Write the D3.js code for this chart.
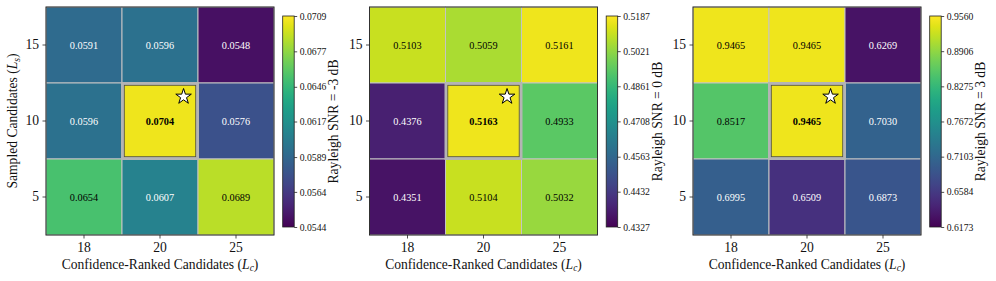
<!DOCTYPE html>
<html>
<head>
<meta charset="utf-8">
<script src="https://cdn.jsdelivr.net/npm/d3@7"></script>
<style>
  body { margin: 0; background: #fff; }
  svg { display: block; font-family: "Liberation Serif", "DejaVu Serif", serif; }
</style>
</head>
<body>
<svg id="chart" width="996" height="281"></svg>
<script>
// categories
const xCats = ["18", "20", "25"];          // confidence-ranked candidates L_c
const yCats = ["15", "10", "5"];           // sampled candidates L_s (top to bottom)
const snrLabels = ["Rayleigh SNR = -3 dB", "Rayleigh SNR = 0 dB", "Rayleigh SNR = 3 dB"];

// cell values, rows top to bottom
const valuesM3 = [[0.0591, 0.0596, 0.0548], [0.0596, 0.0704, 0.0576], [0.0654, 0.0607, 0.0689]];
const values0 = [[0.5103, 0.5059, 0.5161], [0.4376, 0.5163, 0.4933], [0.4351, 0.5104, 0.5032]];
const values3 = [[0.9465, 0.9465, 0.6269], [0.8517, 0.9465, 0.7030], [0.6995, 0.6509, 0.6873]];

// colorbar tick labels
const cbarTicksM3 = [0.0544, 0.0564, 0.0589, 0.0617, 0.0646, 0.0677, 0.0709];
const cbarTicks0 = [0.4327, 0.4432, 0.4563, 0.4708, 0.4861, 0.5021, 0.5187];
const cbarTicks3 = [0.6173, 0.6584, 0.7103, 0.7672, 0.8275, 0.8906, 0.9560];

// highlighted (best) cell
const bestRow = 1, bestCol = 1;

const panels = [
  { values: valuesM3, ticks: cbarTicksM3, label: snrLabels[0], left: 46 },
  { values: values0, ticks: cbarTicks0, label: snrLabels[1], left: 369.5 },
  { values: values3, ticks: cbarTicks3, label: snrLabels[2], left: 693 }
];

const GAMMA = 0.85; // power norm of the colour mapping
const SIZE = 228, TOP = 7;
const FONT = "Liberation Serif";
const svg = d3.select("#chart");

panels.forEach((p, pi) => {
  const vmin = p.ticks[0], vmax = p.ticks[p.ticks.length - 1];
  const lin = d3.scaleLinear().domain([vmin, vmax]).clamp(true);
  const norm = v => Math.pow(lin(v), GAMMA);
  const color = v => d3.interpolateViridis(norm(v));

  const g = svg.append("g").attr("transform", `translate(${p.left},${TOP})`);

  const x = d3.scaleBand().domain(xCats).range([0, SIZE]);
  const y = d3.scaleBand().domain(yCats).range([0, SIZE]);

  const cells = [];
  p.values.forEach((row, ri) => row.forEach((v, ci) => cells.push({ ri, ci, v })));

  g.selectAll("rect.cell")
    .data(cells)
    .join("rect")
    .attr("class", "cell")
    .attr("x", d => x(xCats[d.ci]))
    .attr("y", d => y(yCats[d.ri]))
    .attr("width", x.bandwidth())
    .attr("height", y.bandwidth())
    .attr("fill", d => color(d.v))
    .attr("stroke", "#c4c4c4")
    .attr("stroke-width", 1);

  // highlight frame on the best cell
  const bx = x(xCats[bestCol]), by = y(yCats[bestRow]);
  g.append("rect")
    .attr("x", bx + 0.5).attr("y", by + 0.5)
    .attr("width", x.bandwidth() - 1).attr("height", y.bandwidth() - 1)
    .attr("fill", "none").attr("stroke", "#b4b4b4").attr("stroke-width", 3);
  g.append("rect")
    .attr("x", bx + 2.3).attr("y", by + 2.3)
    .attr("width", x.bandwidth() - 4.6).attr("height", y.bandwidth() - 4.6)
    .attr("fill", "none").attr("stroke", "#4a4a4a").attr("stroke-width", 0.8);

  g.selectAll("text.val")
    .data(cells)
    .join("text")
    .attr("class", "val")
    .attr("x", d => x(xCats[d.ci]) + x.bandwidth() / 2)
    .attr("y", d => y(yCats[d.ri]) + y.bandwidth() / 2)
    .attr("dy", "0.35em")
    .attr("text-anchor", "middle")
    .attr("font-family", FONT)
    .attr("font-size", 10.3)
    .attr("font-weight", d => (d.ri === bestRow && d.ci === bestCol) ? "bold" : "normal")
    .attr("fill", d => lin(d.v) < 0.5 ? "#fff" : "#000")
    .text(d => d.v.toFixed(4));

  // star marker
  g.append("path")
    .attr("d", d3.symbol(d3.symbolStar, 75)())
    .attr("transform", `translate(${bx + x.bandwidth() * 0.81},${by + y.bandwidth() * 0.18})`)
    .attr("fill", "#fff").attr("stroke", "#000").attr("stroke-width", 1);

  // frame
  g.append("rect")
    .attr("width", SIZE).attr("height", SIZE)
    .attr("fill", "none").attr("stroke", "#222").attr("stroke-width", 0.9);

  // axes
  const xAxis = g.append("g")
    .attr("transform", `translate(0,${SIZE})`)
    .call(d3.axisBottom(x).tickSize(3.5).tickPadding(3.5));
  const yAxis = g.append("g")
    .call(d3.axisLeft(y).tickSize(3.5).tickPadding(3.5));
  [xAxis, yAxis].forEach(a => {
    a.attr("font-family", FONT);
    a.select(".domain").remove();
    a.selectAll("line").attr("stroke", "#222").attr("stroke-width", 0.8);
    a.selectAll("text").attr("font-size", 13.6).attr("fill", "#111");
  });

  const xl = g.append("text")
    .attr("x", SIZE / 2).attr("y", SIZE + 33.5)
    .attr("font-family", FONT)
    .attr("text-anchor", "middle").attr("font-size", 13.6).attr("fill", "#111");
  xl.append("tspan").text("Confidence-Ranked Candidates (");
  xl.append("tspan").attr("font-style", "italic").text("L");
  xl.append("tspan").attr("font-style", "italic").attr("font-size", 9.5).attr("dy", 2.5).text("c");
  xl.append("tspan").attr("dy", -2.5).text(")");

  if (pi === 0) {
    const yl = g.append("text")
      .attr("transform", `translate(-29,${SIZE / 2}) rotate(-90)`)
      .attr("font-family", FONT)
      .attr("text-anchor", "middle").attr("font-size", 13.6).attr("fill", "#111");
    yl.append("tspan").text("Sampled Candidates (");
    yl.append("tspan").attr("font-style", "italic").text("L");
    yl.append("tspan").attr("font-style", "italic").attr("font-size", 9.5).attr("dy", 2.5).text("s");
    yl.append("tspan").attr("dy", -2.5).text(")");
  }

  // colorbar
  const cbX = 236.7, cbY = 9, cbW = 11.5, cbH = 211;
  const gradId = `grad${pi}`;
  const grad = svg.append("defs").append("linearGradient")
    .attr("id", gradId).attr("x1", 0).attr("y1", 1).attr("x2", 0).attr("y2", 0);
  d3.range(0, 1.0001, 0.05).forEach(t => {
    grad.append("stop").attr("offset", t).attr("stop-color", d3.interpolateViridis(t));
  });
  const cb = g.append("g").attr("transform", `translate(${cbX},${cbY})`);
  cb.append("rect").attr("width", cbW).attr("height", cbH)
    .attr("fill", `url(#${gradId})`).attr("stroke", "#222").attr("stroke-width", 0.8);
  const cbScale = d3.scaleLinear().domain([0, 1]).range([cbH, 0]);
  const cbAxis = cb.append("g").attr("transform", `translate(${cbW},0)`)
    .call(d3.axisRight(cbScale)
      .tickValues(p.ticks.map(norm))
      .tickFormat((d, i) => p.ticks[i].toFixed(4))
      .tickSize(3).tickPadding(2.5));
  cbAxis.attr("font-family", FONT);
  cbAxis.select(".domain").remove();
  cbAxis.selectAll("line").attr("stroke", "#222").attr("stroke-width", 0.8);
  cbAxis.selectAll("text").attr("font-size", 9.7).attr("fill", "#111");

  cb.append("text")
    .attr("transform", `translate(${cbW + 44},${cbH / 2}) rotate(-90)`)
    .attr("font-family", FONT)
    .attr("text-anchor", "middle").attr("font-size", 13.6).attr("fill", "#111")
    .text(p.label);
});
</script>
</body>
</html>
